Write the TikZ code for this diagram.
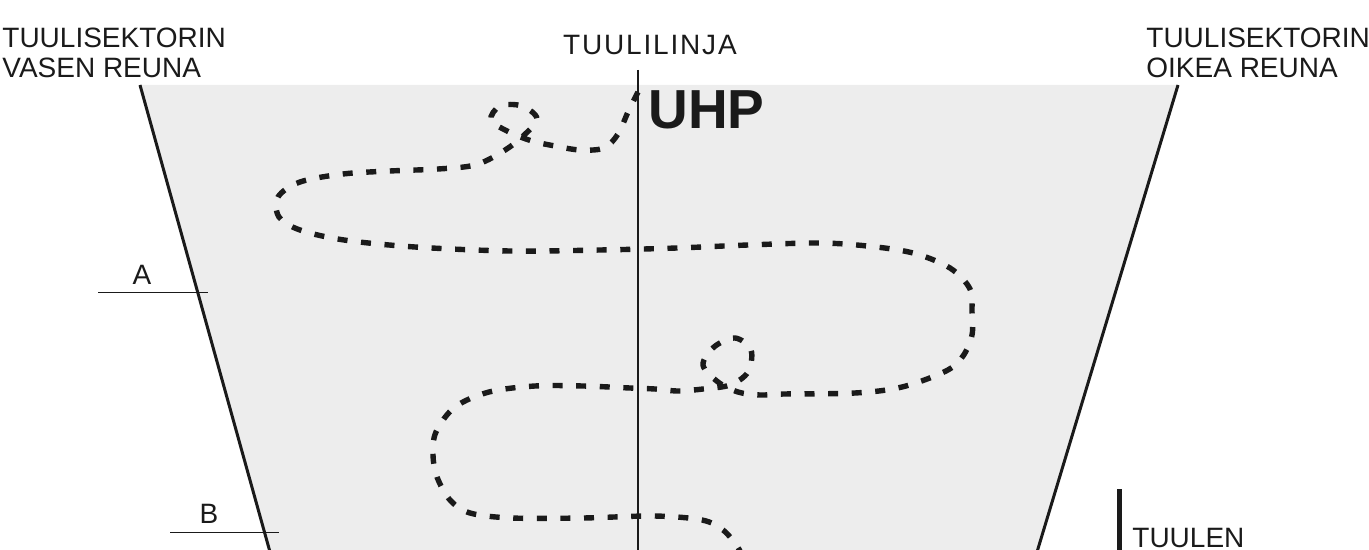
\documentclass[tikz,border=0pt]{standalone}
\usepackage{fontspec}
\setmainfont{Liberation Sans}
\definecolor{sector}{HTML}{EDEDED}
\definecolor{ink}{HTML}{1A1A1A}
\tikzset{
  lbl/.style={font=\fontsize{14pt}{16pt}\selectfont, inner sep=0pt, anchor=base west, text=ink},
  bigbold/.style={font=\fontsize{27.5pt}{30pt}\selectfont\bfseries, inner sep=0pt, anchor=base west, text=ink},
  sectoredge/.style={line width=1.5pt, draw=ink},
  thinline/.style={line width=0.5pt, draw=ink},
  axisline/.style={line width=0.7pt, draw=ink},
  route/.style={line width=2.7pt, draw=ink, dash pattern=on 5pt off 6.8pt},
  windbar/.style={line width=2.5pt, draw=ink},
}
\begin{document}
\begin{tikzpicture}[x=0.5pt,y=-0.5pt]
\useasboundingbox (0,0) rectangle (1369,550);
% sector corners
\coordinate (Ltop) at (140,85);
\coordinate (Lbot) at (270,552);
\coordinate (Rtop) at (1178,85);
\coordinate (Rbot) at (1037,552);
\fill[sector] (Ltop) -- (Rtop) -- (Rbot) -- (Lbot) -- cycle;
\draw[sectoredge] (Ltop) -- (Lbot);
\draw[sectoredge] (Rtop) -- (Rbot);
% wind line
\coordinate (Ctop) at (638,70);
\coordinate (Cbot) at (638,552);
\draw[axisline] (Ctop) -- (Cbot);
% labels
\node[lbl] (tl1) at (2,48) {TUULISEKTORIN};
\node[lbl] (tl2) at (2,78) {VASEN REUNA};
\node[lbl] (tr1) at (1146,48) {TUULISEKTORIN};
\node[lbl] (tr2) at (1146,78) {OIKEA REUNA};
\node[lbl, anchor=base] (tc) at (650,55) {\addfontfeature{LetterSpace=6.5}TUULILINJA};
\node[bigbold] (uhp) at (648,129) {UHP};
% A and B marks
\coordinate (A1) at (98,293);
\coordinate (A2) at (208,293);
\draw[thinline] (A1) -- (A2);
\node[lbl, anchor=base] (la) at (142,285) {A};
\coordinate (B1) at (170,532);
\coordinate (B2) at (279,532);
\draw[thinline] (B1) -- (B2);
\node[lbl, anchor=base] (lb) at (209,523) {B};
% wind direction mark
\coordinate (W1) at (1119,489);
\coordinate (W2) at (1119,552);
\draw[windbar] (W1) -- (W2);
\node[lbl] (tuulen) at (1132,547) {TUULEN};
% route
\draw[route] plot[smooth, tension=0.55] coordinates {
 (638,92) (628,112) (618,134) (604,148) (580,150) (555,146) (532,141)
 (509,132) (491,120) (500,106) (522,106) (537,119) (522,137) (502,152)
 (475,165) (438,169) (390,171) (343,174) (300,182) (278,197) (279,217)
 (300,230) (344,240) (415,247) (510,251) (600,250) (677,248) (748,245)
 (819,243) (867,246) (913,253) (950,268) (970,289) (972,312) (972,335)
 (963,356) (946,371) (902,387) (855,393) (784,394) (760,395) (738,392)
 (718,382) (703,365) (714,347) (735,338) (751,350) (748,372) (730,385)
 (703,389) (678,391) (655,389) (630,388) (583,386) (535,386) (489,392)
 (455,407) (436,432) (433,455) (437,477) (450,500) (470,513) (512,518)
 (583,518) (654,516) (702,520) (723,530) (737,546) (742,556)};
\end{tikzpicture}
\end{document}
